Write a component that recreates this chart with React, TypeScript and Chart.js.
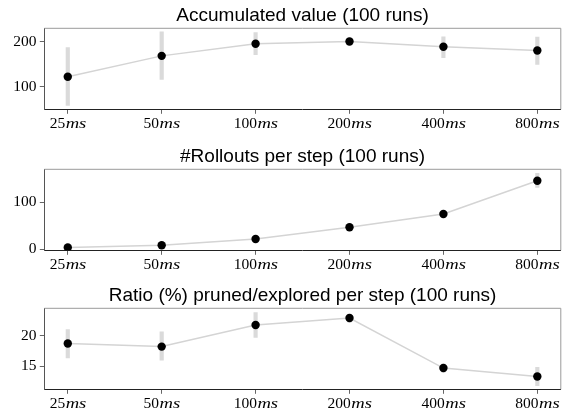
import React, { useEffect, useRef } from 'react';
import { Chart, registerables } from 'chart.js';

Chart.register(...registerables);

// ---- data ----
const categories = ['25', '50', '100', '200', '400', '800'];
const unit = 'ms';

const accTitle = 'Accumulated value (100 runs)';
const accMean = [122.4, 168.7, 195.5, 200.5, 188.8, 180.5];
const accLow = [59, 116.6, 171.6, 196, 164.9, 150];
const accHigh = [187, 221.7, 220, 204.5, 211, 210.5];
const accTicks = [100, 200];
const accRange = [50.5, 229.7];

const rollTitle = '#Rollouts per step (100 runs)';
const rollMean = [3.6, 8.6, 21.6, 46.8, 74.8, 145.3];
const rollLow = [2.8, 7.4, 19.6, 44.2, 71.5, 131];
const rollHigh = [4.4, 9.8, 23.6, 49.4, 78.1, 161];
const rollTicks = [0, 100];
const rollRange = [-2.2, 169.5];

const ratioTitle = 'Ratio (%) pruned/explored per step (100 runs)';
const ratioMean = [18.74, 18.24, 21.76, 22.91, 14.73, 13.35];
const ratioLow = [16.37, 16.04, 19.73, 22.25, 14.07, 11.87];
const ratioHigh = [21.04, 20.66, 23.79, 23.4, 15.4, 14.84];
const ratioTicks = [15, 20];
const ratioRange = [11.26, 24.5];

// ---- style ----
const W = 565;
const CANVAS_H = 136;
const TITLE_FONT = 'Liberation Sans';
const SERIF = 'Liberation Serif';
const NUM_FONT = `15.5px "${SERIF}"`;
const UNIT_FONT = `italic 15.5px "${SERIF}"`;
const UNIT_STRETCH = 1.2;

const xLabelPlugin = {
  id: 'xLabels',
  afterDraw(chart: any) {
    const { ctx, chartArea, scales } = chart;
    ctx.save();
    ctx.fillStyle = '#000';
    ctx.textBaseline = 'alphabetic';
    const y = chartArea.bottom + 19;
    categories.forEach((c, i) => {
      const x = scales.x.getPixelForValue(i);
      ctx.font = NUM_FONT;
      const w1 = ctx.measureText(c).width;
      ctx.font = UNIT_FONT;
      const w2 = ctx.measureText(unit).width * UNIT_STRETCH;
      const start = x - (w1 + w2) / 2;
      ctx.font = NUM_FONT;
      ctx.fillText(c, start, y);
      ctx.font = UNIT_FONT;
      ctx.save();
      ctx.translate(start + w1 + 0.5, y);
      ctx.scale(UNIT_STRETCH, 1);
      ctx.fillText(unit, 0, 0);
      ctx.restore();
    });
    ctx.restore();
  },
};

const framePlugin = {
  id: 'frame',
  afterDraw(chart: any) {
    const { ctx, chartArea } = chart;
    ctx.save();
    ctx.strokeStyle = '#9a9a9a';
    ctx.lineWidth = 1;
    ctx.beginPath();
    ctx.moveTo(chartArea.left, chartArea.top);
    ctx.lineTo(chartArea.right, chartArea.top);
    ctx.lineTo(chartArea.right, chartArea.bottom);
    ctx.stroke();
    ctx.restore();
  },
};

type PanelProps = {
  top: number;
  title: string;
  mean: number[];
  low: number[];
  high: number[];
  yTicks: number[];
  range: number[];
};

function Panel({ top, title, mean, low, high, yTicks, range }: PanelProps) {
  const ref = useRef<HTMLCanvasElement | null>(null);
  useEffect(() => {
    if (!ref.current) return;
    const chart = new Chart(ref.current, {
      type: 'line',
      data: {
        datasets: [
          {
            type: 'line',
            data: mean.map((v, i) => ({ x: i, y: v })),
            borderColor: '#d4d4d4',
            borderWidth: 1.5,
            pointRadius: 4.2,
            pointBackgroundColor: '#000',
            pointBorderWidth: 0,
            pointBorderColor: '#000',
            tension: 0,
            order: 1,
          } as any,
          {
            type: 'bar',
            data: low.map((v, i) => ({ x: i, y: [v, high[i]] })),
            backgroundColor: '#dadada',
            borderWidth: 0,
            barThickness: 3.5,
            order: 2,
          } as any,
        ],
      },
      options: {
        animation: false,
        responsive: false,
        events: [],
        layout: { padding: { left: 0, right: 3.7, top: 0, bottom: 0 } },
        plugins: {
          legend: { display: false },
          tooltip: { enabled: false },
          title: {
            display: true,
            text: title,
            fullSize: false,
            color: '#000',
            font: { family: TITLE_FONT, size: 19, weight: 'normal', lineHeight: 1.2 },
            padding: { top: 4.5, bottom: 1.0 },
          },
        },
        scales: {
          x: {
            type: 'linear',
            min: -0.25,
            max: 5.25,
            offset: false,
            afterBuildTicks: (s: any) => {
              s.ticks = categories.map((_, i) => ({ value: i }));
            },
            afterFit: (s: any) => {
              s.height = CANVAS_H - 28.3 - 81;
            },
            ticks: { display: false },
            grid: {
              display: true,
              offset: false,
              drawOnChartArea: false,
              color: '#666',
              tickLength: 4.5,
              tickWidth: 1,
            },
            border: { display: true, color: '#222', width: 1 },
          },
          y: {
            type: 'linear',
            min: range[0],
            max: range[1],
            afterBuildTicks: (s: any) => {
              s.ticks = yTicks.map((v) => ({ value: v }));
            },
            afterFit: (s: any) => {
              s.width = 44.3;
            },
            ticks: {
              color: '#000',
              padding: 3.3,
              font: { family: SERIF, size: 15.5 },
              callback: (v: any) => String(v),
            },
            grid: {
              display: true,
              drawOnChartArea: false,
              color: '#666',
              tickLength: 4.5,
              tickWidth: 1,
            },
            border: { display: true, color: '#555', width: 1 },
          },
        },
      } as any,
      plugins: [xLabelPlugin, framePlugin],
    });
    return () => chart.destroy();
  }, []);
  return (
    <div style={{ position: 'absolute', left: 0, top, width: W, height: CANVAS_H }}>
      <canvas ref={ref} width={W} height={CANVAS_H} style={{ display: 'block', width: W, height: CANVAS_H }} />
    </div>
  );
}

export default function App() {
  return (
    <div
      style={{
        position: 'absolute',
        left: 0,
        top: 0,
        width: W,
        height: 410,
        overflow: 'hidden',
        background: '#fff',
      }}
    >
      <Panel top={0} title={accTitle} mean={accMean} low={accLow} high={accHigh} yTicks={accTicks} range={accRange} />
      <Panel top={140.7} title={rollTitle} mean={rollMean} low={rollLow} high={rollHigh} yTicks={rollTicks} range={rollRange} />
      <Panel top={280.3} title={ratioTitle} mean={ratioMean} low={ratioLow} high={ratioHigh} yTicks={ratioTicks} range={ratioRange} />
    </div>
  );
}
